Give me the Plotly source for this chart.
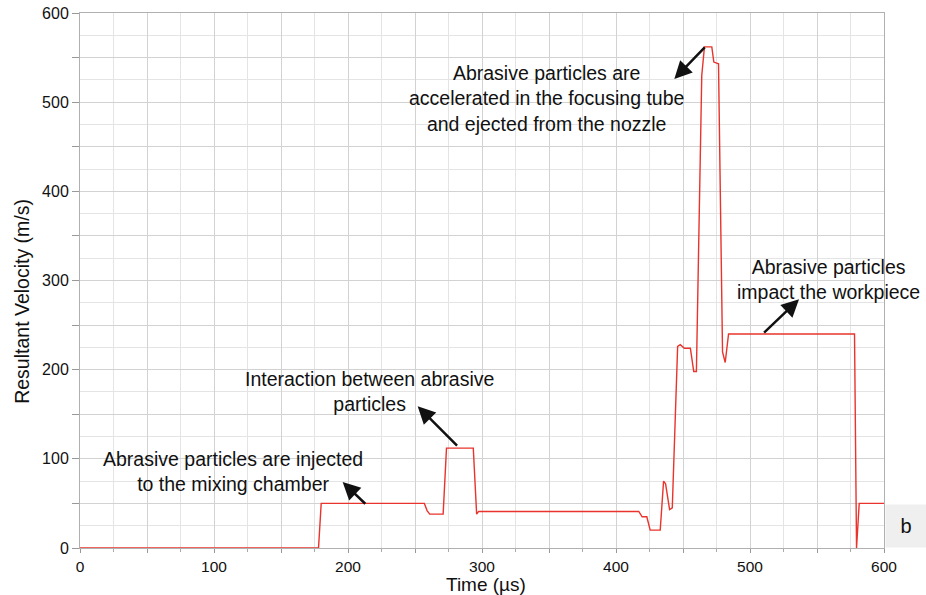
import plotly.graph_objects as go

# ---- data ----
time_us = [0, 178, 180, 257, 259, 261, 271, 273.5, 293.5, 296, 297.5,
           417, 419.5, 423, 425.5, 433, 435.5, 437, 440, 442,
           446, 448, 451, 455.5, 458, 460, 464, 466, 471.5, 473, 476.5,
           479.5, 481.5, 484, 578, 579.5, 581.5, 600]
velocity = [0, 0, 50, 50, 42, 38, 38, 112, 112, 38, 41,
            41, 35, 35, 20, 20, 75, 72, 43, 45,
            226, 228, 224, 224, 198, 198, 530, 562, 562, 545, 543,
            220, 208, 240, 240, 0, 50, 50]

x_ticks = [0, 100, 200, 300, 400, 500, 600]
y_ticks = [0, 100, 200, 300, 400, 500, 600]

notes = [
    # text, text x, text y, arrow head x, head y, tail x, tail y
    ("Abrasive particles are injected<br>to the mixing chamber", 114, 85.5, 196, 74, 214, 48),
    ("Interaction between abrasive<br>particles", 216, 175.5, 252, 159, 282.5, 113),
    ("Abrasive particles are<br>accelerated in the focusing tube<br>and ejected from the nozzle", 348.5, 504, 443.5, 526, 467.3, 563),
    ("Abrasive particles<br>impact the workpiece", 558.5, 301, 536.6, 279, 509.4, 240),
]

FONT = "Liberation Sans, Arial, sans-serif"

fig = go.Figure()
fig.add_trace(go.Scatter(x=time_us, y=velocity, mode="lines",
                         line=dict(color="#e8342c", width=1.4),
                         showlegend=False, hoverinfo="skip"))

grid_vals = list(range(0, 601, 50))

fig.update_xaxes(range=[0, 600], tickvals=grid_vals,
                 ticktext=[str(v) if v in x_ticks else "" for v in grid_vals],
                 ticks="outside", ticklen=4, tickcolor="#999999",
                 showgrid=True, gridcolor="#d2d2d2", gridwidth=1,
                 minor=dict(dtick=25, showgrid=True, gridcolor="#e4e4e4",
                            ticks="outside", ticklen=3, tickcolor="#aaaaaa"),
                 showline=True, linecolor="#b0b0b0", linewidth=1, mirror=True,
                 zeroline=False, automargin=False,
                 tickfont=dict(family=FONT, size=15.5, color="#111111"))
fig.update_yaxes(range=[0, 600], tickvals=grid_vals,
                 ticktext=[str(v) if v in y_ticks else "" for v in grid_vals],
                 ticks="outside", ticklen=7, tickcolor="#999999",
                 showgrid=True, gridcolor="#d2d2d2", gridwidth=1,
                 minor=dict(dtick=25, showgrid=True, gridcolor="#e4e4e4"),
                 showline=True, linecolor="#b0b0b0", linewidth=1, mirror=True,
                 zeroline=False, automargin=False,
                 tickfont=dict(family=FONT, size=16, color="#111111"))

ann = []
for text, tx, ty, hx, hy, sx, sy in notes:
    ann.append(dict(x=tx, y=ty, xref="x", yref="y", text=text, showarrow=False,
                    align="center", font=dict(family=FONT, size=19.5, color="#111111")))
    ann.append(dict(x=hx, y=hy, xref="x", yref="y", ax=sx, ay=sy, axref="x", ayref="y",
                    text="", showarrow=True, arrowhead=2, arrowsize=1.4,
                    arrowwidth=2.5, arrowcolor="#111111", standoff=0, startstandoff=0))

# axis titles
ann.append(dict(x=(22 - 80) / 804, y=(547.5 - 302) / 533.5, xref="paper", yref="paper",
                xanchor="center", yanchor="middle",
                text="Resultant Velocity (m/s)", textangle=-90, showarrow=False,
                font=dict(family=FONT, size=19.5, color="#111111")))
ann.append(dict(x=0.505, y=(547.5 - 584) / 533.5, xref="paper", yref="paper",
                xanchor="center", yanchor="middle",
                text="Time (µs)", showarrow=False,
                font=dict(family=FONT, size=19, color="#111111")))
# panel label
ann.append(dict(x=1.0, y=0, xref="paper", yref="paper", xanchor="left", yanchor="bottom",
                xshift=1, text="b", showarrow=False, bgcolor="#efefef",
                width=38, height=40, borderpad=1,
                font=dict(family=FONT, size=20, color="#111111")))

fig.update_layout(width=926, height=595,
                  margin=dict(l=80, r=42, t=13, b=47, autoexpand=False),
                  paper_bgcolor="white", plot_bgcolor="white",
                  annotations=ann)

fig.write_html("out.html")
